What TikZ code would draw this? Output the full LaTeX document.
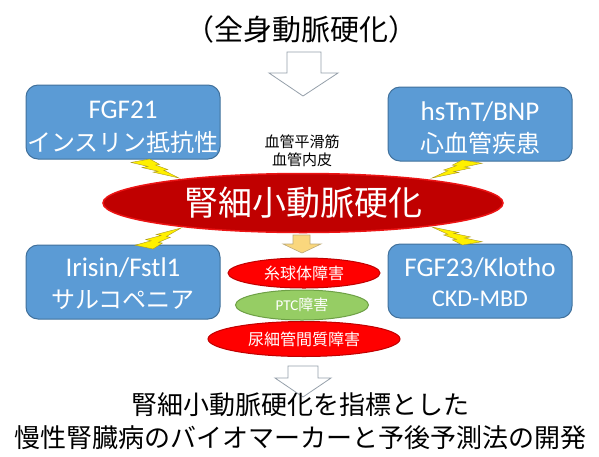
\documentclass[tikz,border=0pt]{standalone}
\usepackage{fontspec}
\setmainfont{Carlito}
\newfontfamily\jp{Noto Sans CJK JP}
\usetikzlibrary{shapes.geometric}
\definecolor{boxblue}{RGB}{91,155,213}
\definecolor{boxedge}{RGB}{65,113,156}
\definecolor{darkred}{RGB}{192,0,0}
\definecolor{edgered}{RGB}{235,20,20}
\definecolor{brightred}{RGB}{255,0,0}
\definecolor{ptcgreen}{RGB}{150,205,100}
\definecolor{ptcedge}{RGB}{110,160,70}
\definecolor{arrowgray}{RGB}{150,160,170}
\definecolor{lightorange}{RGB}{250,215,125}
\definecolor{orangeedge}{RGB}{190,170,120}
\definecolor{boltyellow}{RGB}{255,240,0}
\definecolor{boltedge}{RGB}{170,150,30}
\newcommand\boltshape[4]{%
  \draw[bolt, shift={(#1,#2)}, xscale=#3, yscale=#4]
    (0.3916,0) -- (0,0.1816) -- (0.3502,0.3896) -- (0.2312,0.4500) --
    (0.5647,0.6437) -- (0.4624,0.6914) -- (1,1) -- (0.6837,0.5977) --
    (0.7666,0.5563) -- (0.5106,0.3167) -- (0.5940,0.2833) -- cycle;}
\begin{document}
\begin{tikzpicture}[x=1pt,y=-1pt,
  box/.style={draw=boxedge, line width=1pt, fill=boxblue, rounded corners=12pt,
    inner sep=0pt, minimum width=#1, minimum height=74pt},
  entxt/.style={text=white, inner sep=0pt, font=\fontsize{27}{32}\selectfont},
  jptxt/.style={text=white, inner sep=0pt, font=\jp\fontsize{24}{30}\selectfont},
  hollow/.style={draw=arrowgray, fill=white, line width=0.8pt, line join=miter},
  bolt/.style={fill=boltyellow, draw=boltedge, line width=0.4pt},
  redell/.style={ellipse, fill=brightred, draw=darkred, line width=1pt, inner sep=0pt, text=white},
  plain/.style={align=center, inner sep=0pt}]
\useasboundingbox (0,0) rectangle (599,456);
\fill[white] (0,0) rectangle (599,456);

% title
\node[plain, font=\jp\fontsize{29}{34}\selectfont] (title) at (301,29) {（全身動脈硬化）};

% top hollow arrow
\draw[hollow] (287,52) -- (321,52) -- (321,73) -- (338,73) -- (303,96) -- (269,73) -- (287,73) -- cycle;

% boxes
\node[box=194pt] (fgf21) at (123,122) {};
\node[entxt] (fgf21a) at (123,110) {FGF21};
\node[jptxt] (fgf21b) at (123,142) {インスリン抵抗性};
\node[box=184pt] (hstnt) at (480,124) {};
\node[entxt] (hstnta) at (480,112) {hsTnT/BNP};
\node[jptxt] (hstntb) at (480,143) {心血管疾患};
\node[box=194pt] (irisin) at (123,282) {};
\node[entxt] (irisina) at (123,268) {Irisin/Fstl1};
\node[jptxt] (irisinb) at (123,300) {サルコペニア};
\node[box=184pt] (fgf23) at (480,281) {};
\node[entxt] (fgf23a) at (480,268) {FGF23/Klotho};
\node[entxt, font=\fontsize{24}{30}\selectfont] (fgf23b) at (480,299) {CKD-MBD};

% vessel labels
\node[plain, font=\jp\fontsize{15}{18}\selectfont] (vessel) at (302,151) {血管平滑筋\\血管内皮};

% main ellipse
\node[ellipse, fill=darkred, draw=edgered, line width=1.5pt, inner sep=0pt,
  minimum width=400pt, minimum height=59pt, text=white,
  font=\jp\fontsize{34}{40}\selectfont] (main) at (303,203) {腎細小動脈硬化};

% lightning bolts (tips at main ellipse)
\boltshape{131}{159}{48}{19}
\boltshape{482}{160}{-50}{18}
\boltshape{135}{249}{46}{-21}
\boltshape{482}{245}{-50}{-18}

% small yellow arrow
\draw[fill=lightorange, draw=orangeedge, line width=0.6pt]
  (293,235) -- (310,235) -- (310,244) -- (321,244) -- (302,253) -- (283,244) -- (293,244) -- cycle;

% damage ellipses
\node[redell, minimum width=152pt, minimum height=30pt, font=\jp\fontsize{16}{19}\selectfont]
  (glom) at (304,273) {糸球体障害};
\node[ellipse, fill=ptcgreen, draw=ptcedge, line width=1pt, inner sep=0pt, text=white,
  minimum width=133pt, minimum height=30pt] (ptc) at (302,305)
  {\fontsize{15}{18}\selectfont PTC{\jp 障害}};
\node[redell, minimum width=192pt, minimum height=35pt, font=\jp\fontsize{16}{19}\selectfont]
  (tubule) at (304,339) {尿細管間質障害};

% bottom hollow arrow
\draw[hollow] (288,366) -- (318,366) -- (318,378) -- (331,378) -- (303,397) -- (275,378) -- (288,378) -- cycle;

% goal text
\node[plain, font=\jp\fontsize{26}{33}\selectfont] (goal) at (300,421)
  {腎細小動脈硬化を指標とした\\慢性腎臓病のバイオマーカーと予後予測法の開発};
\end{tikzpicture}
\end{document}
